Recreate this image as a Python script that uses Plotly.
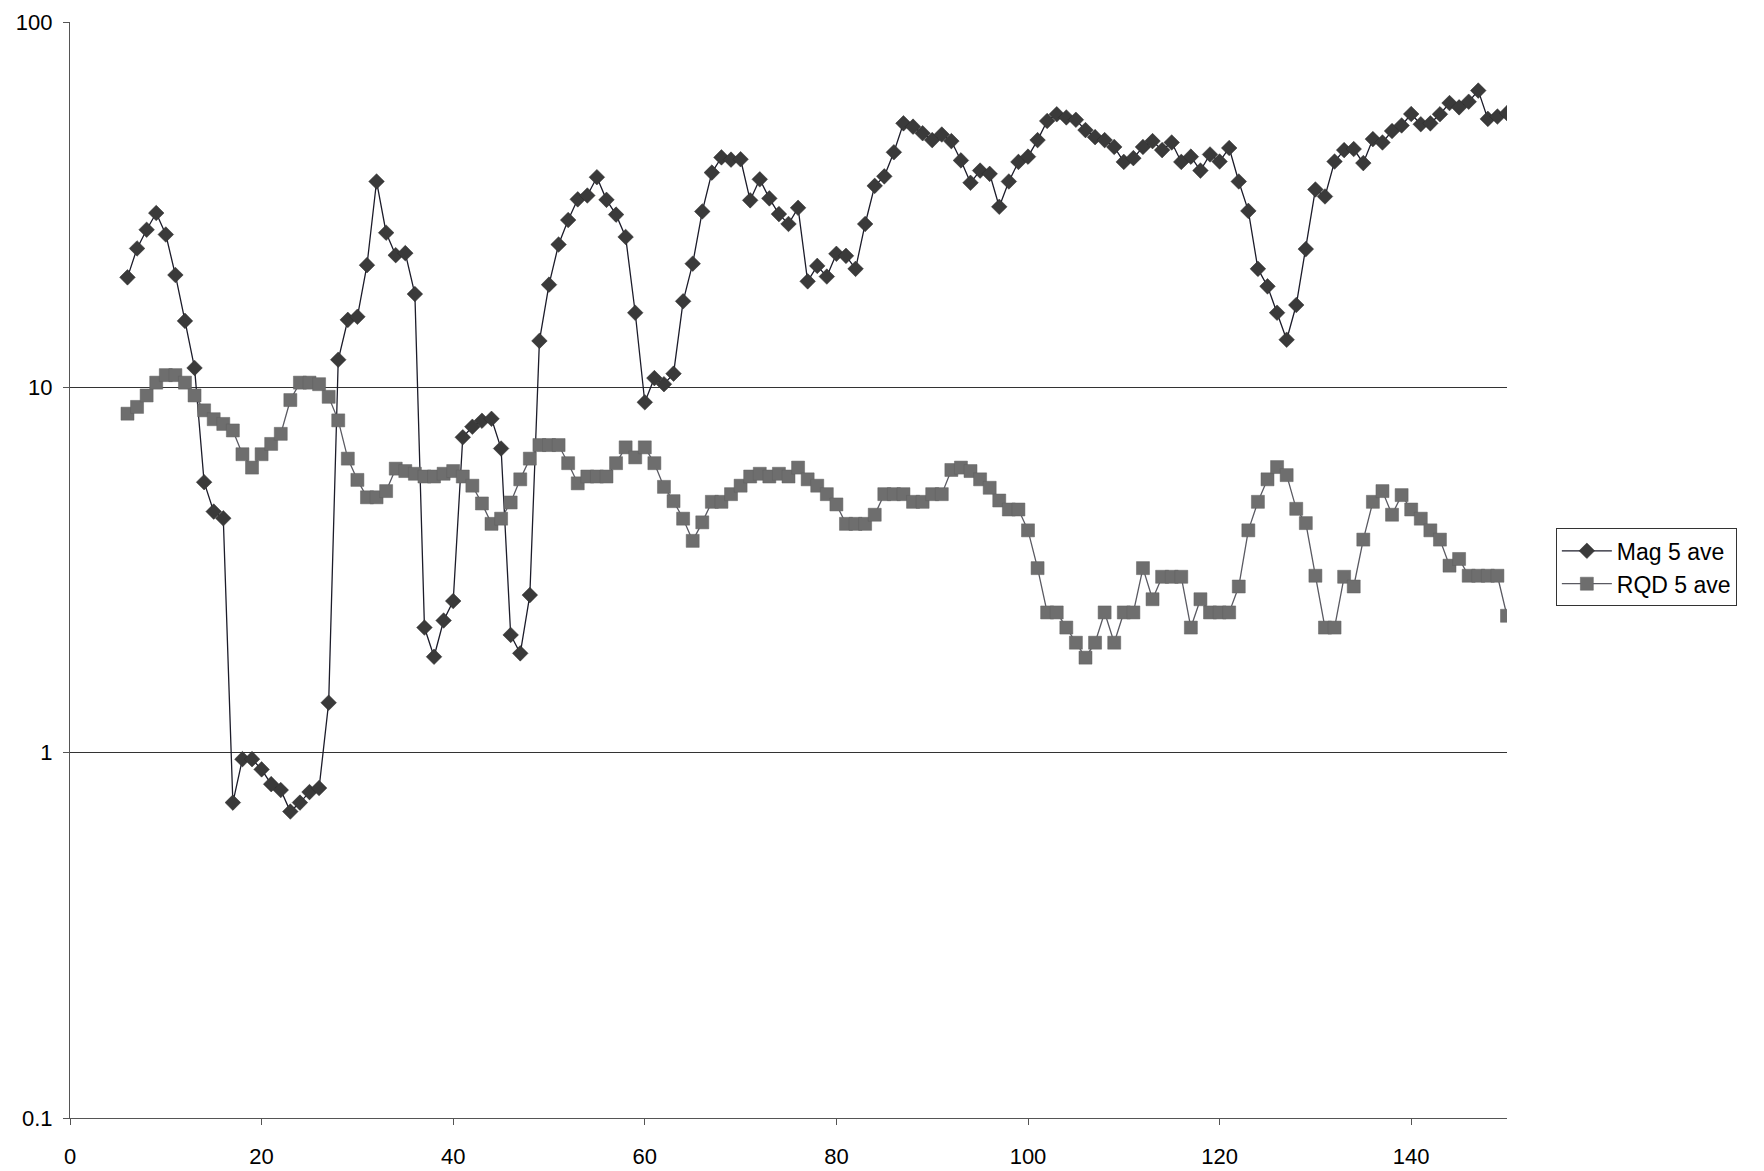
import plotly.graph_objects as go

depth = list(range(6, 151))

mag_5_ave = [
    20, 24, 27, 30, 26.2, 20.3, 15.2, 11.3, 5.5, 4.57,
    4.38, 0.73, 0.96, 0.96, 0.90, 0.82, 0.79, 0.69, 0.73, 0.78,
    0.80, 1.37, 11.9, 15.3, 15.6, 21.6, 36.6, 26.5, 23, 23.3,
    18, 2.2, 1.83, 2.3, 2.6, 7.3, 7.8, 8.1, 8.2, 6.8,
    2.1, 1.87, 2.7, 13.4, 19.1, 24.6, 28.7, 32.7, 33.5, 37.6,
    32.6, 29.7, 25.8, 16, 9.1, 10.6, 10.2, 10.9, 17.2, 21.8,
    30.3, 38.7, 42.6, 42, 42.1, 32.5, 37.1, 32.9, 29.8, 28,
    31, 19.5, 21.5, 20.1, 23.2, 22.9, 21.1, 28, 35.6, 37.8,
    44, 52.8, 51.7, 49.6, 47.5, 49.2, 47.2, 41.8, 36.3, 39.2,
    38.4, 31.2, 36.6, 41.4, 42.8, 47.5, 53.6, 55.9, 54.8, 54,
    50.6, 48.4, 47.5, 45.5, 41.4, 42.4, 45.5, 47.2, 44.6, 46.8,
    41.4, 42.8, 39.2, 43.4, 41.5, 45.2, 36.6, 30.4, 21.1, 18.9,
    16, 13.5, 16.8, 23.9, 34.8, 33.3, 41.5, 44.6, 44.9, 41.1,
    47.8, 46.8, 50.3, 52.1, 56, 52.5, 52.8, 55.9, 60, 58.4,
    60.5, 64.9, 54.3, 55.1, 56.3,
]

rqd_5_ave = [
    8.47, 8.84, 9.5, 10.3, 10.8, 10.8, 10.3, 9.5, 8.65, 8.18,
    7.94, 7.62, 6.56, 6.03, 6.56, 7.0, 7.46, 9.23, 10.3, 10.3,
    10.2, 9.42, 8.12, 6.38, 5.58, 5.0, 5.0, 5.2, 5.99, 5.9,
    5.8, 5.7, 5.7, 5.8, 5.9, 5.7, 5.38, 4.81, 4.23, 4.37,
    4.84, 5.6, 6.38, 6.95, 6.95, 6.95, 6.2, 5.46, 5.7, 5.7,
    5.7, 6.2, 6.85, 6.43, 6.85, 6.2, 5.34, 4.88, 4.37, 3.8,
    4.27, 4.86, 4.86, 5.1, 5.38, 5.7, 5.8, 5.7, 5.8, 5.7,
    6.03, 5.6, 5.38, 5.1, 4.78, 4.23, 4.23, 4.23, 4.48, 5.1,
    5.1, 5.1, 4.86, 4.86, 5.1, 5.1, 5.94, 6.03, 5.9, 5.6,
    5.31, 4.9, 4.63, 4.63, 4.06, 3.2, 2.42, 2.42, 2.2, 2.0,
    1.82, 2.0, 2.42, 2.0, 2.42, 2.42, 3.2, 2.63, 3.03, 3.03,
    3.03, 2.2, 2.63, 2.42, 2.42, 2.42, 2.85, 4.06, 4.86, 5.6,
    6.05, 5.75, 4.65, 4.25, 3.05, 2.2, 2.2, 3.03, 2.85, 3.83,
    4.86, 5.2, 4.48, 5.07, 4.63, 4.37, 4.06, 3.83, 3.25, 3.39,
    3.05, 3.05, 3.05, 3.05, 2.37,
]

x_ticks = [0, 20, 40, 60, 80, 100, 120, 140]
y_ticks = [0.1, 1, 10, 100]
y_tick_text = ["0.1", "1", "10", "100"]

FONT = "Arial, Liberation Sans, sans-serif"

fig = go.Figure()
fig.add_trace(go.Scatter(
    x=depth, y=mag_5_ave, name="Mag 5 ave", mode="lines+markers",
    line=dict(color="#1c1c2a", width=1.3),
    marker=dict(symbol="diamond", size=12, color="#3a3a3a",
                line=dict(color="#2a2a2a", width=0.5)),
))
fig.add_trace(go.Scatter(
    x=depth, y=rqd_5_ave, name="RQD 5 ave", mode="lines+markers",
    line=dict(color="#5a5a62", width=1.3),
    marker=dict(symbol="square", size=13, color="#6e6e6e",
                line=dict(color="#606060", width=0.5)),
))

fig.update_layout(
    width=1764, height=1171,
    margin=dict(l=62, r=265, t=14, b=61, autoexpand=False),
    paper_bgcolor="white", plot_bgcolor="white",
    font=dict(family=FONT, size=22, color="black"),
    showlegend=True,
    legend=dict(
        x=1.034, y=0.538, xanchor="left", yanchor="top",
        bordercolor="#333", borderwidth=1, bgcolor="white",
        font=dict(family=FONT, size=23, color="black"),
        tracegroupgap=0, itemwidth=50,
    ),
)
fig.update_xaxes(
    range=[0, 150], tickvals=x_ticks, showgrid=False,
    showline=True, linecolor="#555", linewidth=1.2,
    ticks="outside", ticklen=6, tickcolor="#555",
    tickfont=dict(family=FONT, size=22, color="black"),
    ticklabelstandoff=12, automargin=False,
    zeroline=False,
)
fig.update_yaxes(
    type="log", range=[-1, 2], tickvals=y_ticks, ticktext=y_tick_text,
    showgrid=True, gridcolor="#333", gridwidth=1,
    showline=True, linecolor="#555", linewidth=1.2,
    ticks="outside", ticklen=6, tickcolor="#555",
    tickfont=dict(family=FONT, size=22, color="black"),
    ticklabelstandoff=6, automargin=False,
    zeroline=False,
)

fig.write_html("out.html")
